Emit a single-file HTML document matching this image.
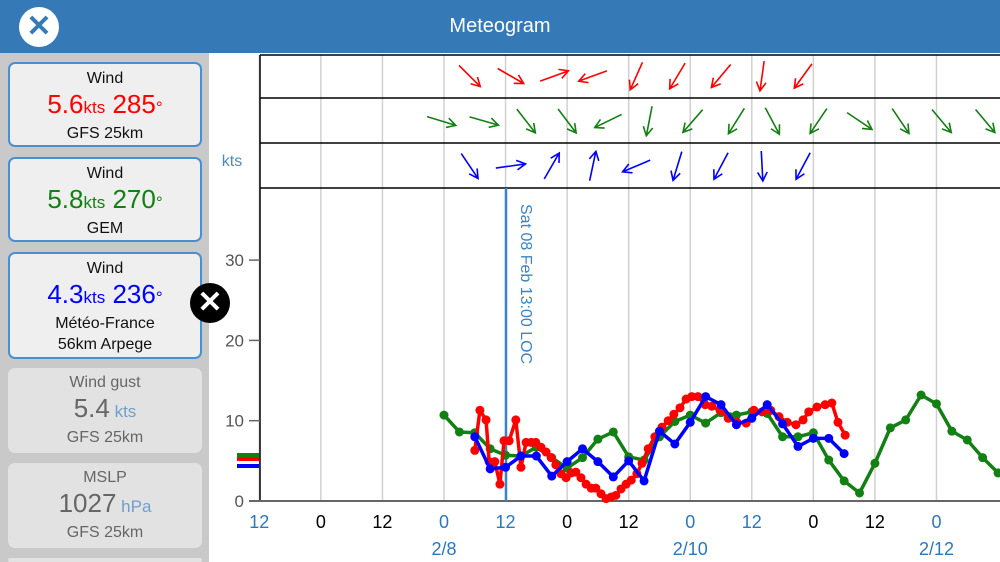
<!DOCTYPE html>
<html><head><meta charset="utf-8"><style>
*{margin:0;padding:0;box-sizing:border-box}
html,body{width:1000px;height:562px;overflow:hidden}
body{background:#fff;font-family:"Liberation Sans",sans-serif;position:relative}
#hdr{position:absolute;left:0;top:0;width:1000px;height:53px;background:#3579b7;color:#fff;font-size:20px;text-align:center;line-height:53px}
#close{position:absolute;left:19px;top:7px;width:40px;height:40px;border-radius:50%;background:#fff;color:#3579b7;font-size:30px;line-height:40px;text-align:center;font-weight:bold}
#side{position:absolute;left:0;top:53px;width:209px;height:509px;background:#c9c9c9}
.card{position:absolute;left:8px;width:194px;border-radius:7px;background:#efefef;border:2px solid #4a90cf;text-align:center;color:#111;font-size:16px;line-height:21px}
.card.off{border:none;background:#e2e2e2;color:#666}
.big{font-size:26px;line-height:30px}
.u{font-size:17px}
#x2{position:absolute;left:190px;top:283px;width:40px;height:40px;border-radius:50%;background:#000;color:#fff;font-size:30px;line-height:40px;text-align:center;font-weight:bold}
svg{position:absolute;left:0;top:0}
</style></head><body>
<div id="hdr">Meteogram</div>
<div id="close">✕</div>
<div id="side"></div>
<div class="card" style="top:62px;height:85px;padding-top:4px">Wind<div class="big" style="color:#f00">5.6<span class="u">kts</span> 285<span class="u">°</span></div>GFS 25km</div>
<div class="card" style="top:157px;height:85px;padding-top:4px">Wind<div class="big" style="color:#138013">5.8<span class="u">kts</span> 270<span class="u">°</span></div>GEM</div>
<div class="card" style="top:252px;height:107px;padding-top:4px">Wind<div class="big" style="color:#00f">4.3<span class="u">kts</span> 236<span class="u">°</span></div>Météo-France<br>56km Arpege</div>
<div class="card off" style="top:368px;height:85px;padding-top:4px">Wind gust<div class="big">5.4<span class="u" style="color:#6f9fcc"> kts</span></div>GFS 25km</div>
<div class="card off" style="top:463px;height:85px;padding-top:4px">MSLP<div class="big">1027<span class="u" style="color:#6f9fcc"> hPa</span></div>GFS 25km</div>
<div class="card off" style="top:558px;height:4px"></div>
<svg id="chart" width="1000" height="562"></svg>
<div id="x2">✕</div>
<script>
const xTickHours=[-36,-24,-12,0,12,24,36,48,60,72,84,96];
const xTickLabels=["12","0","12","0","12","0","12","0","12","0","12","0"];
const xTickBlue=[1,0,0,1,1,0,0,1,1,0,0,1];
const dateLabels=["2/8","2/10","2/12"];
const dateHours=[0,48,96];
const yTicks=[0,10,20,30];
const gemHours=[0,3,6,9,12,15,18,21,24,27,30,33,36,39,42,45,48,51,54,57,60,63,66,69,72,75,78,81,84,87,90,93,96,99,102,105,108];
const gemVals=[10.7,8.6,8.5,6.5,5.7,5.6,6.7,5.4,4.1,5.4,7.7,8.6,5.5,5.1,8.0,9.9,10.7,9.7,11.0,10.7,11.1,10.9,8.0,8.0,8.5,5.1,2.5,1.0,4.7,9.1,10.1,13.2,12.1,8.7,7.6,5.4,3.5];
const arpHours=[6,9,12,15,18,21,24,27,30,33,36,39,42,45,48,51,54,57,60,63,66,69,72,75,78];
const arpVals=[8.0,4.0,4.2,5.6,5.6,3.1,4.9,6.5,4.9,3.0,5.0,2.5,8.7,7.1,9.8,13.0,12.0,9.5,10.3,12.0,9.6,6.8,7.8,7.8,5.9];
const gfsHours=[6,7,8.2,8.8,9.9,10.9,11.7,12.7,14,15,16,17,17.9,18.9,19.9,20.9,21.8,22.8,23.8,24.8,25.7,26.7,27.7,28.7,29.6,30.6,31.6,32.6,33.5,34.5,35.5,36.5,37.6,38.6,39.8,41.1,42.5,43.7,44.8,46,47.2,48.3,49.5,50.9,52.2,53.8,55.4,57.1,58.9,60.4,62,63.7,65.3,66.9,68.6,70,71.1,72.7,74.3,75.6,76.8,78.2];
const gfsVals=[6.3,11.3,10.1,4.9,4.9,2.1,7.5,7.5,10.1,4.2,7.3,7.3,7.3,6.7,6.1,5.4,4.5,3.4,2.9,3.5,3.6,2.9,2.1,1.6,1.6,0.9,0.3,0.5,0.7,1.5,2.1,2.6,3.4,4.7,6.5,8.0,9.2,10.0,10.8,11.6,12.7,13.0,13.0,12.0,11.8,11.3,10.3,9.8,9.7,11.3,11.1,11.3,10.5,9.8,9.5,10.1,11.1,11.7,12.0,12.2,9.8,8.2];
const gfsArrowHours=[5,13,21.5,29,37.5,45.5,54,62,70];
const gfsArrowDirs=[135,120,70,250,204,211,220,188,216];
const gemArrowHours=[-0.5,7.8,16,24,32,40,48.5,57,64,73,81,89,97,105.5];
const gemArrowDirs=[107,106,142,143,244,191,221,212,152,214,124,146,140,140];
const arpArrowHours=[5,13,21,29,37.5,45.5,54,62,70];
const arpArrowDirs=[146,82,30,12,247,197,208,177,208];

const svg=document.getElementById('chart');
const NS='http://www.w3.org/2000/svg';
const X=h=>444+h*5.13;
const Y=v=>501-v*8.03;
function mk(tag,attrs){const e=document.createElementNS(NS,tag);for(const k in attrs)e.setAttribute(k,attrs[k]);svg.appendChild(e);return e;}
let e;
xTickHours.forEach((h,i)=>{
 e=mk('line',{x1:X(h),x2:X(h),y1:55,y2:501,stroke:'#d0d0d0','stroke-width':1.5});
 
 
 e=mk('text',{x:X(h),y:528,'text-anchor':'middle','font-size':18,fill:xTickBlue[i]?'#2a78c0':'#000','font-family':'Liberation Sans'});
 e.textContent=xTickLabels[i];
 
 
});
dateLabels.forEach((d,i)=>{
 e=mk('text',{x:X(dateHours[i]),y:555,'text-anchor':'middle','font-size':18,fill:'#2a78c0','font-family':'Liberation Sans'});
 e.textContent=d;
 
 
});
[55,98,143,188].forEach(y=>{
 e=mk('line',{x1:260,x2:1000,y1:y,y2:y,stroke:'#000','stroke-width':1.5});
 
 
});
e=mk('line',{x1:260,x2:260,y1:55,y2:501,stroke:'#000','stroke-width':1.5});


e=mk('line',{x1:249,x2:1000,y1:501,y2:501,stroke:'#666','stroke-width':2});


yTicks.forEach(v=>{
 e=mk('line',{x1:249,x2:260,y1:Y(v),y2:Y(v),stroke:'#666','stroke-width':1.5});
 
 
 e=mk('text',{x:244,y:Y(v)+6,'text-anchor':'end','font-size':17,fill:'#555','font-family':'Liberation Sans'});
 e.textContent=v;
 
 
});
e=mk('text',{x:232,y:166,'text-anchor':'middle','font-size':16,fill:'#4a8cc4','font-family':'Liberation Sans'});
e.textContent='kts';


[['#138013',455],['#f00',459],['#00f',466]].forEach(([c,y])=>{
 e=mk('rect',{x:237,y:y-2,width:22,height:4,fill:c});
 
 
});
e=mk('line',{x1:506,x2:506,y1:188,y2:501,stroke:'#3a84c4','stroke-width':2.5});


e=mk('text',{x:0,y:0,'font-size':16,fill:'#3a84c4','font-family':'Liberation Sans',transform:'translate(521,204) rotate(90)'});
e.textContent='Sat 08 Feb 13:00 LOC';


function series(hs,vs,c,r,name){
 e=mk('polyline',{points:hs.map((h,i)=>X(h)+','+Y(vs[i])).join(' '),fill:'none',stroke:c,'stroke-width':3.5,'stroke-linejoin':'round'});
 
 
 hs.forEach((h,i)=>{
  e=mk('circle',{cx:X(h),cy:Y(vs[i]),r:r,fill:c});
  
  
 });
}
series(gemHours,gemVals,'#138013',4.5,'gem');
series(gfsHours,gfsVals,'#f00',4.5,'gfs');
series(arpHours,arpVals,'#00f',4.5,'arpege');
function arrows(hs,ds,cy,c,name){
 hs.forEach((h,i)=>{
  const a=ds[i]*Math.PI/180,dx=Math.sin(a)*15,dy=-Math.cos(a)*15;
  const cx=X(h);
  const x2=cx+dx,y2=cy+dy;
  const hx1=x2-Math.sin(a-0.5)*10,hy1=y2+Math.cos(a-0.5)*10;
  const hx2=x2-Math.sin(a+0.5)*10,hy2=y2+Math.cos(a+0.5)*10;
  e=mk('path',{d:`M${cx-dx},${cy-dy}L${x2},${y2}M${hx1},${hy1}L${x2},${y2}L${hx2},${hy2}`,stroke:c,'stroke-width':1.6,fill:'none'});
  
  
 });
}
arrows(gfsArrowHours,gfsArrowDirs,76,'#f00','gfs');
arrows(gemArrowHours,gemArrowDirs,121,'#138013','gem');
arrows(arpArrowHours,arpArrowDirs,166,'#00f','arpege');
</script>
</body></html>
